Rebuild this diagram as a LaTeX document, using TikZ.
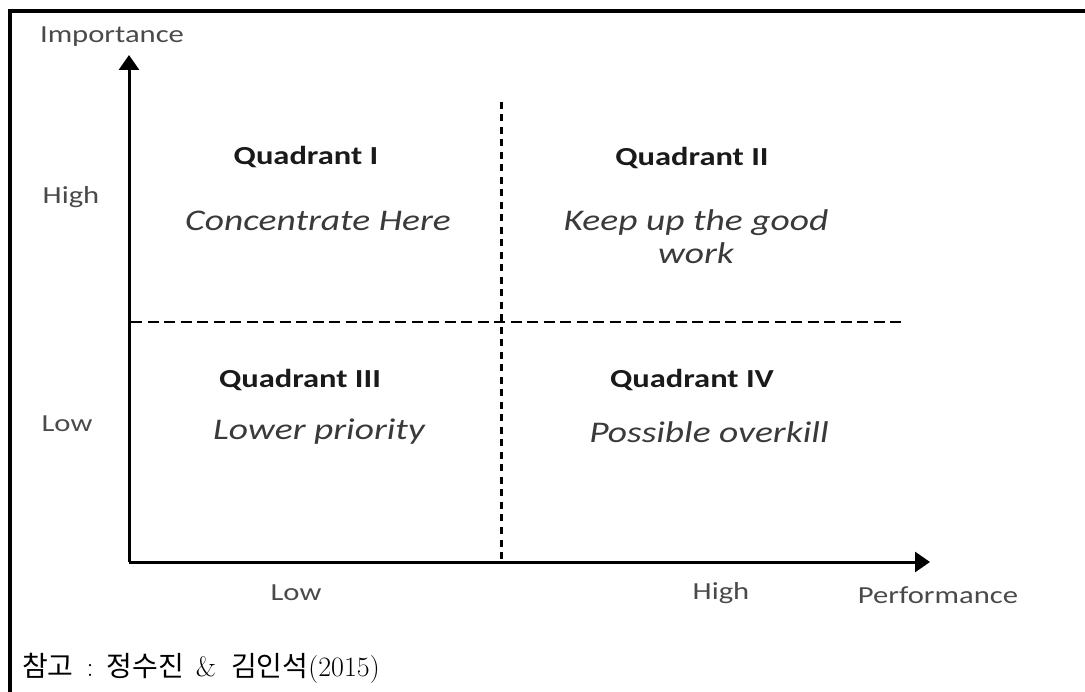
\documentclass[tikz,border=0pt]{standalone}
\usepackage{fontspec}
\newfontfamily\calfont[FakeStretch=1.25]{Carlito}
\newfontfamily\krfont{Noto Sans CJK KR}
\usetikzlibrary{arrows.meta}
\definecolor{labgray}{HTML}{4A4A4A}
\definecolor{quadblack}{HTML}{1A1A1A}
\definecolor{italgray}{HTML}{3A3A3A}
\tikzset{
  axislab/.style={inner sep=0pt, text=labgray, font=\calfont\fontsize{24.5}{28}\selectfont},
  quadtitle/.style={inner sep=0pt, text=quadblack, font=\calfont\bfseries\fontsize{26}{30}\selectfont},
  quadtext/.style={inner sep=0pt, text=italgray, align=center, font=\calfont\itshape\fontsize{30}{33}\selectfont},
  axisline/.style={line width=3pt, -{Triangle[length=15pt,width=20pt]}},
  midline/.style={line width=2.8pt, dash pattern=on 11pt off 5.5pt},
  vline/.style={line width=3pt, dash pattern=on 7pt off 5.5pt},
  frameline/.style={line width=4pt}
}
\begin{document}
\begin{tikzpicture}[x=1pt,y=-1pt]
\useasboundingbox (0,0) rectangle (1085,692);
% frame (top and left sides)
\coordinate (fTR) at (1087,11);
\coordinate (fTL) at (9.5,11);
\coordinate (fBL) at (9.5,694);
\draw[frameline] (fTR) -- (fTL) -- (fBL);
% axes
\coordinate (O) at (129,562);
\coordinate (ytip) at (129,55);
\coordinate (xtip) at (930,562);
\draw[axisline] (O) -- (ytip);
\draw[axisline] (O) -- (xtip);
% quadrant dividers
\coordinate (hL) at (131,322);
\coordinate (hR) at (903,322);
\coordinate (vT) at (501,102);
\coordinate (vB) at (501,560);
\draw[midline] (hL) -- (hR);
\draw[vline] (vT) -- (vB);
% axis labels
\node[axislab] (imp) at (112,37) {Importance};
\node[axislab] (yhi) at (71,197) {High};
\node[axislab] (ylo) at (67,424) {Low};
\node[axislab] (xlo) at (296,593) {Low};
\node[axislab] (xhi) at (721,593) {High};
\node[axislab] (perf) at (938,595) {Performance};
% quadrants
\node[quadtitle] (q1) at (306,157) {Quadrant I};
\node[quadtext] (t1) at (318,221) {Concentrate Here};
\node[quadtitle] (q2) at (692,158) {Quadrant II};
\node[quadtext] (t2) at (696,237) {Keep up the good\\work};
\node[quadtitle] (q3) at (300,380) {Quadrant III};
\node[quadtext] (t3) at (319,432) {Lower priority};
\node[quadtitle] (q4) at (692,380) {Quadrant IV};
\node[quadtext] (t4) at (709,432) {Possible overkill};
% source
\node[anchor=west, inner sep=0pt, font=\fontsize{28}{32}\selectfont] (src) at (22,668)
  {{\krfont 참고}\hspace{13pt}:\hspace{13pt}{\krfont 정수진}\hspace{12pt}\&\hspace{15pt}{\krfont 김인석}(2015)};
\end{tikzpicture}
\end{document}
